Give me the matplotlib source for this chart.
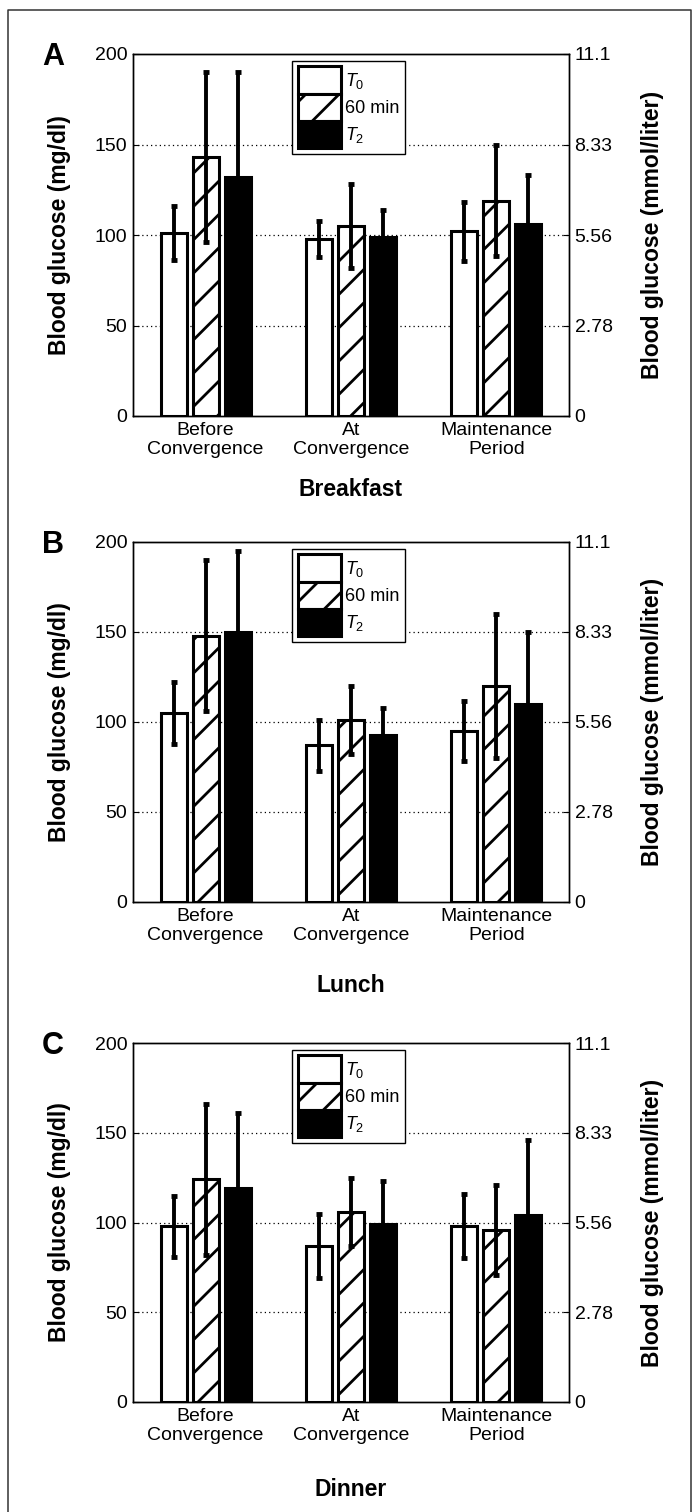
import matplotlib
matplotlib.use("Agg")
import matplotlib.pyplot as plt
from matplotlib.lines import Line2D
import numpy as np

plt.rcParams['font.family'] = ['Liberation Sans', 'DejaVu Sans']
plt.rcParams['mathtext.fontset'] = 'custom'
plt.rcParams['mathtext.it'] = 'Liberation Sans:italic'
plt.rcParams['mathtext.rm'] = 'Liberation Sans'
plt.rcParams['hatch.linewidth'] = 2.0

# data (mg/dl)
periods = ["Before\nConvergence", "At\nConvergence", "Maintenance\nPeriod"]
series_labels = ["$T_{\\rm 0}$", "60 min", "$T_{\\rm 2}$"]
meals = ["Breakfast", "Lunch", "Dinner"]
panel_letters = ["A", "B", "C"]

breakfast_mean = [[101, 98, 102], [143, 105, 119], [132, 99, 106]]
breakfast_err = [[15, 10, 16.5], [47, 23, 30.5], [58, 15, 27]]
lunch_mean = [[105, 87, 95], [148, 101, 120], [150, 93, 110]]
lunch_err = [[17, 14, 16.5], [42, 19, 40], [45, 15, 40]]
dinner_mean = [[98, 87, 98], [124, 106, 96], [119, 99, 104]]
dinner_err = [[17, 18, 18], [42, 19, 25], [42, 24, 42]]

means = [breakfast_mean, lunch_mean, dinner_mean]
errs = [breakfast_err, lunch_err, dinner_err]

left_ticks = [0, 50, 100, 150, 200]
right_tick_labels = ["0", "2.78", "5.56", "8.33", "11.1"]

W, H = 697, 1512
fig = plt.figure(figsize=(W / 100, H / 100), dpi=100)

# axes boxes in pixels: top, bottom ; and meal label y
ax_left, ax_right = 133, 569
tops = [54, 542, 1043]
bottoms = [416, 902, 1402]
meal_y = [490, 985, 1490]

x = np.arange(1, 4)
offsets = [-0.22, 0.0, 0.22]
width = 0.18

for p in range(3):
    ax = fig.add_axes([ax_left / W, 1 - bottoms[p] / H,
                       (ax_right - ax_left) / W, (bottoms[p] - tops[p]) / H])
    for g in (50, 100, 150):
        ax.axhline(g, color='black', lw=0.9, linestyle=(0, (1, 2.5)), zorder=0)

    handles = []
    for s in range(3):
        if s == 0:
            kw = dict(facecolor='white', edgecolor='black')
        elif s == 1:
            kw = dict(facecolor='white', edgecolor='black', hatch='/')
        else:
            kw = dict(facecolor='black', edgecolor='black')
        b = ax.bar(x + offsets[s], means[p][s], width, linewidth=2.2,
                   zorder=2, label=series_labels[s], **kw)
        handles.append(b)
        ax.errorbar(x + offsets[s], means[p][s], yerr=errs[p][s], fmt='none',
                    ecolor='black', elinewidth=2.8, capsize=2, capthick=3.5,
                    zorder=3)

    ax.set_xlim(0.5, 3.5)
    ax.set_ylim(0, 200)
    ax.set_yticks(left_ticks)
    ax.set_xticks(x)
    ax.set_xticklabels(periods, fontsize=14, linespacing=1.15)
    ax.tick_params(axis='x', length=0, pad=4)
    ax.tick_params(axis='y', direction='in', length=4, labelsize=14, pad=4)
    for sp in ax.spines.values():
        sp.set_linewidth(1.0)
    ax.set_ylabel("Blood glucose (mg/dl)", fontsize=16.5, fontweight='bold')
    ax.yaxis.set_label_coords(-0.142, 0.5)

    leg = ax.legend(handles=handles, loc='upper left',
                    bbox_to_anchor=(0.365, 0.981), fontsize=13,
                    handlelength=2.4, handleheight=1.95, labelspacing=0.0,
                    handletextpad=0.25, borderpad=0.3, borderaxespad=0,
                    fancybox=False, framealpha=1)
    leg.get_frame().set_edgecolor('black')
    leg.get_frame().set_linewidth(1.0)

    ax2 = ax.twinx()
    ax2.set_ylim(0, 200)
    ax2.set_yticks(left_ticks)
    ax2.set_yticklabels(right_tick_labels)
    ax2.tick_params(axis='y', direction='in', length=4, labelsize=14, pad=4)
    for sp in ax2.spines.values():
        sp.set_linewidth(1.0)
    ax2.set_ylabel("Blood glucose (mmol/liter)", fontsize=16.5,
                   fontweight='bold', rotation=90)
    ax2.yaxis.set_label_coords(1.165, 0.5)

    fig.text(42 / W, 1 - (tops[p] + 3) / H, panel_letters[p], fontsize=22,
             fontweight='bold', ha='left', va='center')
    fig.text(((ax_left + ax_right) / 2) / W, 1 - meal_y[p] / H, meals[p],
             fontsize=16.5, fontweight='bold', ha='center', va='center')

# outer frame (open at the bottom)
fig.add_artist(Line2D([8 / W, 8 / W, 691 / W, 691 / W],
                      [-0.01, 1 - 10 / H, 1 - 10 / H, -0.01],
                      transform=fig.transFigure, color='#333333', lw=1.1))

fig.savefig("out.png", dpi=100)
